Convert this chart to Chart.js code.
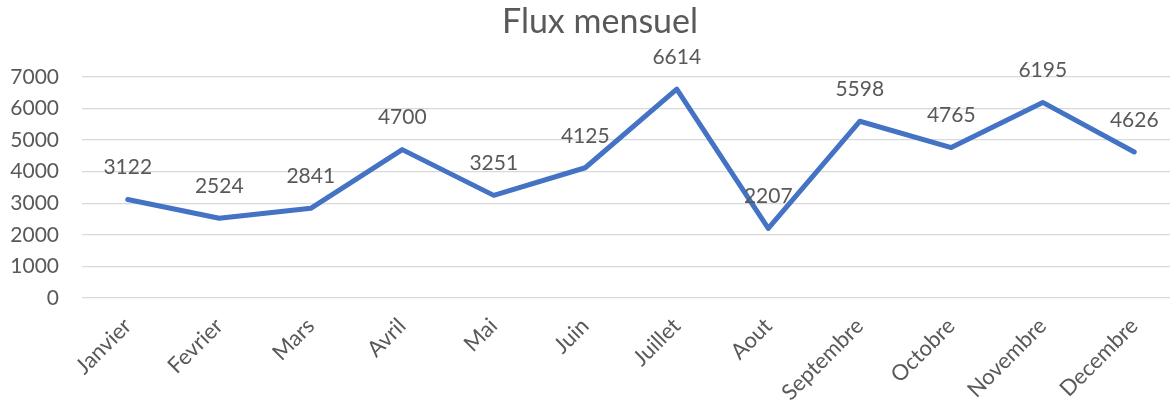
<!DOCTYPE html>
<html>
<head>
<meta charset="utf-8">
<script src="https://cdn.jsdelivr.net/npm/chart.js@4/dist/chart.umd.min.js"></script>
<style>
  html, body { margin: 0; padding: 0; background: #ffffff; overflow: hidden; }
  #wrap { width: 1180px; height: 405px; }
</style>
</head>
<body>
<div id="wrap"><canvas id="c" width="1180" height="405"></canvas></div>
<script>
const chartTitle = "Flux mensuel";
const months = ["Janvier", "Fevrier", "Mars", "Avril", "Mai", "Juin", "Juillet", "Aout", "Septembre", "Octobre", "Novembre", "Decembre"];
const fluxValues = [3122, 2524, 2841, 4700, 3251, 4125, 6614, 2207, 5598, 4765, 6195, 4626];
const yTicks = [0, 1000, 2000, 3000, 4000, 5000, 6000, 7000];

const FONT = "Lato, 'Open Sans', sans-serif";
const TEXT = "#595959";

const titlePlugin = {
  id: "fixedTitle",
  afterDraw(chart) {
    const ctx = chart.ctx;
    ctx.save();
    ctx.font = "34px " + FONT;
    ctx.fillStyle = TEXT;
    ctx.textAlign = "center";
    ctx.textBaseline = "alphabetic";
    ctx.fillText(chartTitle, 600, 33);
    ctx.restore();
  }
};

const valueLabels = {
  id: "valueLabels",
  afterDatasetsDraw(chart) {
    const ctx = chart.ctx;
    const meta = chart.getDatasetMeta(0);
    ctx.save();
    ctx.font = "21px " + FONT;
    ctx.fillStyle = TEXT;
    ctx.textAlign = "center";
    ctx.textBaseline = "middle";
    meta.data.forEach((pt, i) => {
      ctx.fillText(String(fluxValues[i]), pt.x, pt.y - 32);
    });
    ctx.restore();
  }
};

new Chart(document.getElementById("c"), {
  type: "line",
  data: {
    labels: months,
    datasets: [{
      data: fluxValues,
      borderColor: "#4472C4",
      backgroundColor: "#4472C4",
      borderWidth: 5,
      borderCapStyle: "round",
      borderJoinStyle: "round",
      pointRadius: 0,
      tension: 0,
      fill: false
    }]
  },
  options: {
    responsive: false,
    animation: false,
    devicePixelRatio: 1,
    layout: { padding: { top: 77, left: 0, right: 0, bottom: 0 } },
    plugins: {
      legend: { display: false },
      title: { display: false },
      tooltip: { enabled: false }
    },
    scales: {
      x: {
        offset: true,
        grid: { display: false, drawTicks: false },
        border: { display: false },
        ticks: {
          minRotation: 45,
          maxRotation: 45,
          autoSkip: false,
          padding: 15,
          color: TEXT,
          font: { family: FONT, size: 22 }
        },
        afterFit(scale) { scale.height = 107; }
      },
      y: {
        min: 0,
        max: 7000,
        afterBuildTicks(scale) { scale.ticks = yTicks.map(v => ({ value: v })); },
        grid: { color: "#D9D9D9", lineWidth: 1.3, drawTicks: false },
        border: { display: false },
        ticks: {
          padding: 23,
          color: TEXT,
          font: { family: FONT, size: 21 },
          callback: (v) => String(v)
        },
        afterFit(scale) { scale.width = 82; }
      }
    }
  },
  plugins: [titlePlugin, valueLabels]
});
</script>
</body>
</html>
